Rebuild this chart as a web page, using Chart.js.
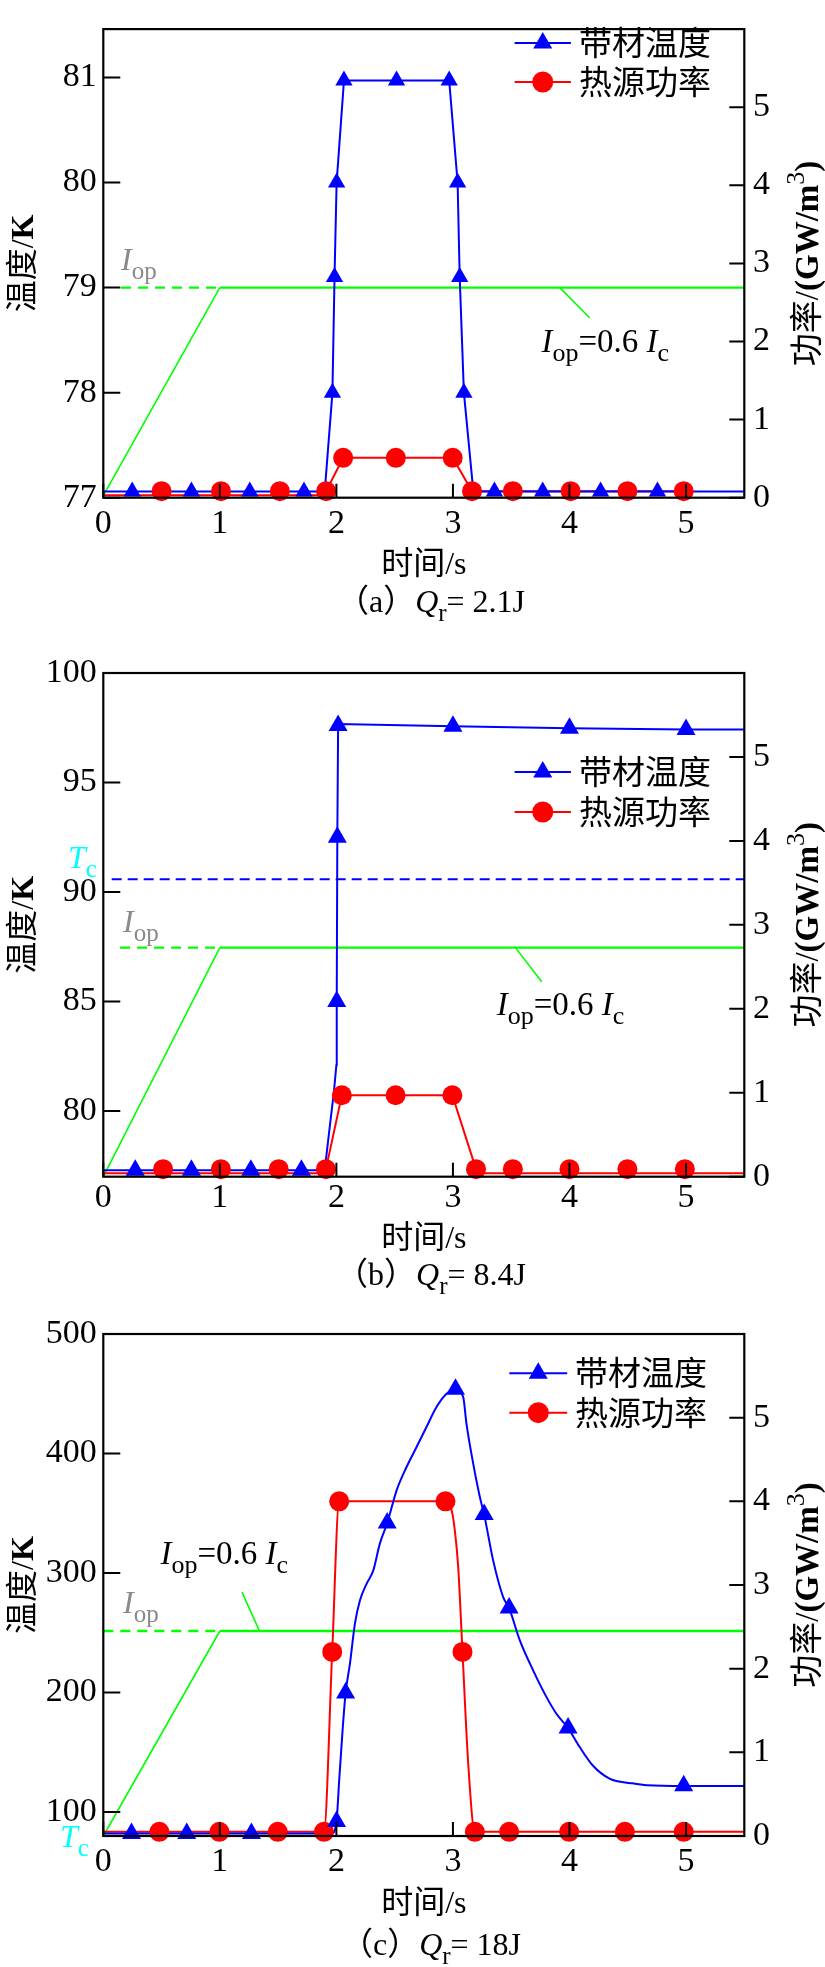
<!DOCTYPE html>
<html>
<head>
<meta charset="utf-8">
<script src="https://cdn.jsdelivr.net/npm/chart.js@4.4.1/dist/chart.umd.min.js"></script>
<style>
  html, body { margin: 0; padding: 0; background: #fff; }
  #wrap { position: relative; width: 825px; height: 1967px; }
  canvas { position: absolute; left: 0; }
</style>
</head>
<body>
<div id="wrap">
  <canvas id="cA" width="825" height="640" style="top:0px"></canvas>
  <canvas id="cB" width="825" height="660" style="top:640px"></canvas>
  <canvas id="cC" width="825" height="667" style="top:1300px"></canvas>
</div>
<script>
// === tick labels ===
const xTicks = [0, 1, 2, 3, 4, 5];
const powerTicks = [0, 1, 2, 3, 4, 5];
const tempTicksA = [77, 78, 79, 80, 81];
const tempTicksB = [80, 85, 90, 95, 100];
const tempTicksC = [100, 200, 300, 400, 500];

// === (a) Qr = 2.1J  [time s, value] ===
const tempLineA = [[0,77.06],[1.9,77.06],[1.966,78.0],[1.984,79.1],[2.002,80.0],[2.065,80.97],[2.968,80.97],[3.04,80.0],[3.058,79.1],[3.094,78.0],[3.175,77.06],[5.5,77.06]];
const tempMarkA = [[0.248,77.06],[0.756,77.06],[1.257,77.06],[1.722,77.06],[1.966,78.0],[1.984,79.1],[2.002,80.0],[2.065,80.97],[2.516,80.97],[2.968,80.97],[3.04,80.0],[3.058,79.1],[3.094,78.0],[3.356,77.06],[3.77,77.06],[4.267,77.06],[4.755,77.06]];
const powerLineA = [[0,0.03],[1.88,0.03],[1.912,0.084],[2.058,0.51],[2.998,0.51],[3.164,0.084],[4.98,0.084]];
const powerMarkA = [[0.5,0.084],[1.01,0.084],[1.515,0.084],[1.912,0.084],[2.058,0.51],[2.51,0.51],[2.998,0.51],[3.164,0.084],[3.514,0.084],[4.01,0.084],[4.497,0.084],[4.98,0.084]];
const iopLineA = [[0,77.02],[1,79.0],[5.5,79.0]];
const iopDashA = [[0.152,79.0],[1,79.0]];
const leaderA = [[3.917,79.0],[4.174,78.71]];

// === (b) Qr = 8.4J ===
const tempLineB = [[0,77.3],[1.9,77.3],[1.934,78.87],[1.979,80.9],[2.0,82.1],[2.003,85.0],[2.008,92.5],[2.015,97.67],[3.0,97.57],[4.0,97.48],[5.0,97.42],[5.5,97.42]];
const tempMarkB = [[0.274,77.3],[0.756,77.3],[1.266,77.3],[1.7,77.3],[2.003,85.0],[2.008,92.5],[2.015,97.6],[3.0,97.57],[4.0,97.48],[5.0,97.42]];
const powerLineB = [[0,0.04],[1.88,0.04],[1.91,0.09],[2.047,0.97],[2.995,0.97],[3.198,0.09],[3.24,0.04],[5.5,0.04]];
const powerMarkB = [[0.513,0.09],[1.009,0.09],[1.505,0.09],[1.91,0.09],[2.047,0.97],[2.508,0.97],[2.995,0.97],[3.198,0.09],[3.514,0.09],[4.0,0.09],[4.497,0.09],[4.99,0.09]];
const iopLineB = [[0,77.0],[1,87.46],[5.5,87.46]];
const iopDashB = [[0.144,87.46],[1,87.46]];
const leaderB = [[3.536,87.46],[3.762,85.9]];
const tcLineB = [[0.072,90.58],[5.5,90.58]];

// === (c) Qr = 18J ===
const tempLineC = [[0,82],[1.96,82],[2.001,92.2],[2.024,126.5],[2.053,168.4],[2.079,199.6],[2.116,224],[2.159,257.7],[2.202,277],[2.259,291],[2.316,302],[2.373,324.6],[2.436,341.8],[2.516,369],[2.602,388.7],[2.688,405.4],[2.773,422.2],[2.859,438.9],[2.945,450],[3.022,453.8],[3.088,447.3],[3.116,425],[3.174,391.5],[3.231,363.6],[3.268,348.9],[3.345,310.6],[3.431,279.9],[3.482,270.7],[3.574,243.7],[3.688,218.6],[3.803,196.2],[3.888,182.3],[3.988,170.3],[4.088,154.4],[4.2,139],[4.348,127.8],[4.529,124.2],[4.665,122.4],[4.98,121.8],[5.5,121.8]];
const tempMarkC = [[0.242,82],[0.716,82],[1.271,82],[2.001,92.2],[2.079,199.6],[2.436,341.8],[3.022,453.8],[3.268,348.9],[3.482,270.7],[3.988,170.3],[4.98,122]];
const powerLineC = [[0,0.05],[1.893,0.05],[1.964,2.2],[2.024,4.0],[2.936,4.0],[2.988,3.895],[3.016,3.656],[3.045,3.218],[3.082,2.2],[3.131,0.868],[3.188,0.05],[5.5,0.05]];
const powerMarkC = [[0.481,0.05],[0.996,0.05],[1.497,0.05],[1.893,0.05],[1.964,2.2],[2.024,4.0],[2.936,4.0],[3.082,2.2],[3.188,0.05],[3.482,0.05],[3.997,0.05],[4.475,0.05],[4.98,0.05]];
const iopLineC = [[0,80],[1,251.5],[5.5,251.5]];
const iopDashC = [[0,251.5],[1,251.5]];
const leaderC = [[1.34,251.5],[1.19,284]];

// === styles ===
const BLUE = '#0000ff', RED = '#ff0000', GREEN = '#00ff00', CYAN = '#00ffff', GRAY = '#8a8a8a';
const SERIF = "'Liberation Serif', 'Noto Sans CJK SC', serif";
const FS = 32;

const panels = [
  { canvas: 'cA', letter: 'a', energy: '2.1J',
    tempLine: tempLineA, tempMark: tempMarkA, powerLine: powerLineA, powerMark: powerMarkA,
    iopLine: iopLineA, iopDash: iopDashA, leader: leaderA, tcLine: null,
    tempMin: 77, tempMax: 81.46, tempTicks: tempTicksA,
    iopLabel: [0.152, 79.17], eqLabel: [3.76, 78.39], tcLabel: null,
    plotTop: 2, xHeight: 142.3, tickPad: 6, titleOff: 76, capOff: 114,
    legX: [514.6, 570.9, 579], legY: [43, 82], triR: 10, smooth: false },
  { canvas: 'cB', letter: 'b', energy: '8.4J',
    tempLine: tempLineB, tempMark: tempMarkB, powerLine: powerLineB, powerMark: powerMarkB,
    iopLine: iopLineB, iopDash: iopDashB, leader: leaderB, tcLine: tcLineB,
    tempMin: 77, tempMax: 100, tempTicks: tempTicksB,
    iopLabel: [0.169, 88.19], eqLabel: [3.376, 84.38], tcLabel: [-0.303, 91.1],
    plotTop: 33, xHeight: 123.3, tickPad: 1, titleOff: 71, capOff: 108,
    legX: [514.6, 570.9, 579], legY: [132, 172], triR: 11, smooth: false },
  { canvas: 'cC', letter: 'c', energy: '18J',
    tempLine: tempLineC, tempMark: tempMarkC, powerLine: powerLineC, powerMark: powerMarkC,
    iopLine: iopLineC, iopDash: iopDashC, leader: leaderC, tcLine: null,
    tempMin: 80, tempMax: 500, tempTicks: tempTicksC,
    iopLabel: [0.169, 266.3], eqLabel: [0.49, 307.5], tcLabel: [-0.371, 70.7],
    plotTop: 34, xHeight: 131, tickPad: 6, titleOff: 77, capOff: 119,
    legX: [509.3, 567.2, 575], legY: [73.2, 112.7], triR: 11, smooth: true }
];

// text with italic / subscript / superscript / bold pieces
function drawRich(ctx, parts, x, y, size, color, align) {
  const fontFor = st => (st.includes('i') ? 'italic ' : '') + (st.includes('b') ? 'bold ' : '') +
    ((st.includes('s') || st.includes('u')) ? Math.round(size * 0.78) : size) + 'px ' + SERIF;
  let w = 0;
  parts.forEach(([t, st]) => { ctx.font = fontFor(st); w += ctx.measureText(t).width; });
  let cx = align === 'center' ? x - w / 2 : x;
  ctx.fillStyle = color;
  ctx.textAlign = 'left';
  ctx.textBaseline = 'alphabetic';
  parts.forEach(([t, st]) => {
    ctx.font = fontFor(st);
    const dy = st.includes('s') ? size * 0.28 : st.includes('u') ? -size * 0.42 : 0;
    ctx.fillText(t, cx, y + dy);
    cx += ctx.measureText(t).width;
  });
}

function drawMark(ctx, style, x, y, r, color) {
  ctx.fillStyle = color;
  ctx.beginPath();
  if (style === 'triangle') {
    ctx.moveTo(x, y - r);
    ctx.lineTo(x + r * 0.866, y + r / 2);
    ctx.lineTo(x - r * 0.866, y + r / 2);
    ctx.closePath();
  } else {
    ctx.arc(x, y, r, 0, Math.PI * 2);
  }
  ctx.fill();
}

function makeDecor(p) {
  return {
    id: 'decor',
    afterDatasetsDraw(chart) {
      const { ctx, chartArea: ca, scales } = chart;
      const X = v => scales.x.getPixelForValue(v);
      const Y = v => scales.y.getPixelForValue(v);
      ctx.save();
      // frame + inward ticks
      ctx.strokeStyle = '#000';
      ctx.lineWidth = 2.2;
      ctx.strokeRect(ca.left, ca.top, ca.right - ca.left, ca.bottom - ca.top);
      ctx.lineWidth = 2;
      ctx.beginPath();
      scales.x.ticks.forEach(t => { const px = X(t.value); ctx.moveTo(px, ca.bottom); ctx.lineTo(px, ca.bottom - 14); });
      scales.y.ticks.forEach(t => { const py = Y(t.value); ctx.moveTo(ca.left, py); ctx.lineTo(ca.left + 17, py); });
      scales.y1.ticks.forEach(t => { const py = scales.y1.getPixelForValue(t.value); ctx.moveTo(ca.right, py); ctx.lineTo(ca.right - 15, py); });
      ctx.stroke();

      // legend
      const [lx0, lx1, tx] = p.legX;
      [[BLUE, 'triangle', '带材温度', 11], [RED, 'circle', '热源功率', 10.5]].forEach(([c, st, txt, r], i) => {
        const ly = p.legY[i];
        ctx.strokeStyle = c; ctx.lineWidth = 2;
        ctx.beginPath(); ctx.moveTo(lx0, ly); ctx.lineTo(lx1, ly); ctx.stroke();
        drawMark(ctx, st, (lx0 + lx1) / 2, ly, r, c);
        drawRich(ctx, [[txt, '']], tx, ly + 12, 33, '#000', 'left');
      });

      // annotations
      drawRich(ctx, [['I', 'i'], ['op', 's']], X(p.iopLabel[0]), Y(p.iopLabel[1]), FS, GRAY, 'left');
      drawRich(ctx, [['I', 'i'], ['op', 's'], ['=0.6 ', ''], ['I', 'i'], ['c', 's']], X(p.eqLabel[0]), Y(p.eqLabel[1]), 33, '#000', 'left');
      if (p.tcLabel) drawRich(ctx, [['T', 'i'], ['c', 's']], X(p.tcLabel[0]), Y(p.tcLabel[1]), FS, CYAN, 'left');

      // axis titles
      const midX = (ca.left + ca.right) / 2, midY = (ca.top + ca.bottom) / 2;
      drawRich(ctx, [['时间/s', '']], midX, ca.bottom + p.titleOff, FS, '#000', 'center');
      ctx.save();
      ctx.translate(21, midY); ctx.rotate(-Math.PI / 2);
      drawRich(ctx, [['温度/', ''], ['K', 'b']], 0, 12, FS, '#000', 'center');
      ctx.restore();
      ctx.save();
      ctx.translate(806, midY); ctx.rotate(-Math.PI / 2);
      drawRich(ctx, [['功率/', ''], ['(GW/m', 'b'], ['3', 'u'], [')', 'b']], 0, 12, 33, '#000', 'center');
      ctx.restore();

      // caption
      drawRich(ctx, [['（' + p.letter + '）', ''], ['Q', 'i'], ['r', 's'], ['= ' + p.energy, '']], 431, ca.bottom + p.capOff, FS, '#000', 'center');
      ctx.restore();
    }
  };
}

function build(p) {
  const ds = (data, axis, color, extra) => Object.assign({
    data: data.map(([x, y]) => ({ x, y })),
    yAxisID: axis,
    borderColor: color,
    backgroundColor: color,
    pointBackgroundColor: color,
    pointBorderWidth: 0,
    borderWidth: 2,
    pointRadius: 0,
    pointHoverRadius: 0,
    fill: false,
    clip: false,
    tension: 0
  }, extra);
  const curve = p.smooth ? { cubicInterpolationMode: 'monotone' } : {};
  const datasets = [
    ds(p.tempMark, 'y', BLUE, { showLine: false, pointStyle: 'triangle', pointRadius: p.triR }),
    ds(p.powerMark, 'y1', RED, { showLine: false, pointStyle: 'circle', pointRadius: 10 }),
    ds(p.tempLine, 'y', BLUE, curve),
    ds(p.powerLine, 'y1', RED, curve),
    ds(p.iopLine, 'y', GREEN, { segment: { borderWidth: c => c.p0DataIndex === 0 ? 1.6 : 2.3 } }),
    ds(p.iopDash, 'y', GREEN, { borderDash: [10, 7], borderWidth: 2.3 }),
    ds(p.leader, 'y', GREEN, { borderWidth: 1.6 })
  ];
  if (p.tcLine) datasets.push(ds(p.tcLine, 'y', BLUE, { borderDash: [10, 6], borderWidth: 2 }));

  const tickFont = { family: SERIF, size: 34 };
  const fixTicks = vals => s => { s.ticks = vals.map(v => ({ value: v })); };

  new Chart(document.getElementById(p.canvas), {
    type: 'line',
    data: { datasets },
    options: {
      responsive: false,
      animation: false,
      events: [],
      layout: { padding: { top: p.plotTop, left: 0, right: 0, bottom: 0 } },
      plugins: { legend: { display: false }, tooltip: { enabled: false } },
      scales: {
        x: {
          type: 'linear', min: 0, max: 5.5,
          afterBuildTicks: fixTicks(xTicks),
          afterFit: s => { s.height = p.xHeight; },
          grid: { display: false, drawTicks: false },
          border: { display: false },
          ticks: { font: tickFont, color: '#000', padding: p.tickPad, maxRotation: 0, autoSkip: false }
        },
        y: {
          type: 'linear', position: 'left', min: p.tempMin, max: p.tempMax,
          afterBuildTicks: fixTicks(p.tempTicks),
          afterFit: s => { s.width = 103.3; },
          grid: { display: false, drawTicks: false },
          border: { display: false },
          ticks: { font: tickFont, color: '#000', padding: 6.6, autoSkip: false }
        },
        y1: {
          type: 'linear', position: 'right', min: 0, max: 6,
          afterBuildTicks: fixTicks(powerTicks),
          afterFit: s => { s.width = 80.7; },
          grid: { display: false, drawTicks: false },
          border: { display: false },
          ticks: { font: tickFont, color: '#000', padding: 8.7, autoSkip: false }
        }
      }
    },
    plugins: [makeDecor(p)]
  });
}

panels.forEach(build);
</script>
</body>
</html>
